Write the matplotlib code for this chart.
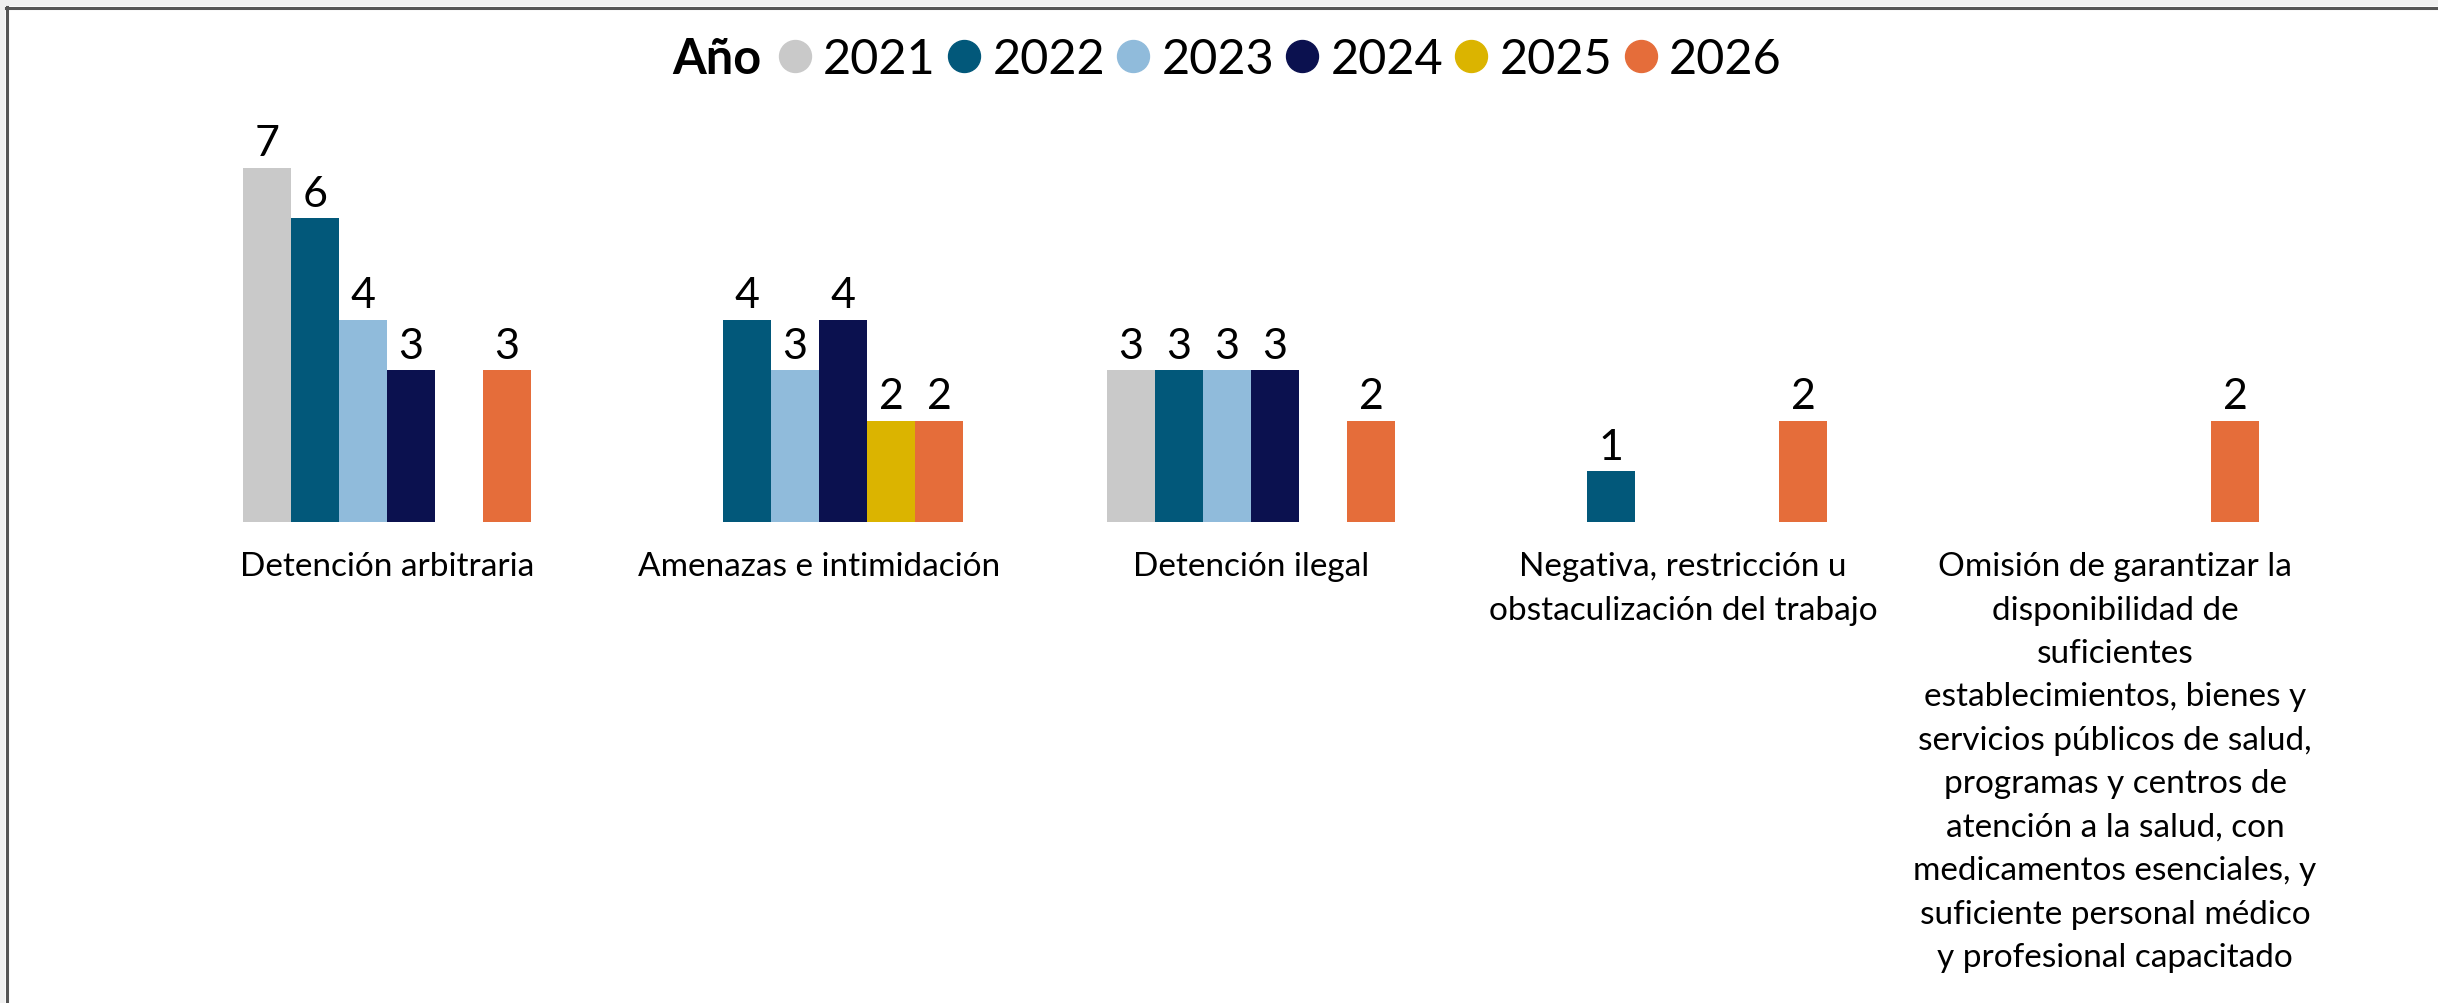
import numpy as np
import matplotlib
matplotlib.use('Agg')
import matplotlib.pyplot as plt
from matplotlib.lines import Line2D

plt.rcParams['font.family'] = ['Lato', 'DejaVu Sans']

categories = [
    'Detención arbitraria',
    'Amenazas e intimidación',
    'Detención ilegal',
    'Negativa, restricción u\nobstaculización del trabajo',
    'Omisión de garantizar la\ndisponibilidad de\nsuficientes\n'
    'establecimientos, bienes y\nservicios públicos de salud,\n'
    'programas y centros de\natención a la salud, con\n'
    'medicamentos esenciales, y\nsuficiente personal médico\n'
    'y profesional capacitado',
]
years = ['2021', '2022', '2023', '2024', '2025', '2026']
colors = ['#C9C9C9', '#02587A', '#90BBDB', '#0B114F', '#DBB400', '#E56D3A']

# casos por año para cada categoría (None = sin casos)
v2021 = [7, None, 3, None, None]
v2022 = [6, 4, 3, 1, None]
v2023 = [4, 3, 3, None, None]
v2024 = [3, 4, 3, None, None]
v2025 = [None, 2, None, None, None]
v2026 = [3, 2, 2, 2, 2]
series = [v2021, v2022, v2023, v2024, v2025, v2026]

W, H = 2438, 1004
fig = plt.figure(figsize=(W / 100, H / 100), dpi=100)

# axes placed in pixel units
left, right = 171, 171 + 2160
base, top = 523, 523 - 8 * 50.6
ax = fig.add_axes([left / W, (H - base) / H, (right - left) / W, (base - top) / H])

x = np.arange(len(categories))
w = 1 / 9
for j, (vals, c) in enumerate(zip(series, colors)):
    h = np.array([np.nan if v is None else v for v in vals], dtype=float)
    pos = x + (j - 2.5) * w
    ax.bar(pos, np.nan_to_num(h), width=w, color=c, linewidth=0)
    for p, v in zip(pos, h):
        if not np.isnan(v):
            ax.annotate(f'{int(v)}', (p, v), xytext=(0, 4), textcoords='offset points',
                        ha='center', va='bottom', fontsize=31)

ax.set_xlim(-0.5, len(categories) - 0.5)
ax.set_ylim(0, 8)
ax.set_yticks([])
ax.set_xticks(x)
ax.set_xticklabels(categories, fontsize=24, linespacing=1.56, multialignment='center')
ax.tick_params(axis='x', length=0, pad=21)
for s in ax.spines.values():
    s.set_visible(False)

# leyenda: "Año" y los años con marcador circular
ly = (H - 60) / H
fig.text(761 / W, ly, 'Año', ha='right', va='center', fontsize=35, fontweight='bold')
handles = [Line2D([], [], marker='o', linestyle='', color=c, markersize=23) for c in colors]
fig.legend(handles, years, loc='center left', bbox_to_anchor=(779 / W, ly), ncol=6,
           frameon=False, fontsize=35, handlelength=0.66, handletextpad=0.25,
           columnspacing=0.25, borderpad=0, borderaxespad=0)

# marco de página
fig.add_artist(plt.Rectangle((0, 1 - 7 / H), 1, 7 / H, transform=fig.transFigure,
                             color='#f0f0f0', lw=0))
fig.add_artist(plt.Rectangle((0, 0), 5 / W, 1, transform=fig.transFigure,
                             color='#f0f0f0', lw=0))
fig.add_artist(Line2D([5.5 / W, 1], [1 - 8.5 / H] * 2, transform=fig.transFigure,
                      color='#555555', lw=2.2))
fig.add_artist(Line2D([6.5 / W] * 2, [0, 1 - 7.5 / H], transform=fig.transFigure,
                      color='#555555', lw=2.2))

fig.savefig('out.png', dpi=100)
